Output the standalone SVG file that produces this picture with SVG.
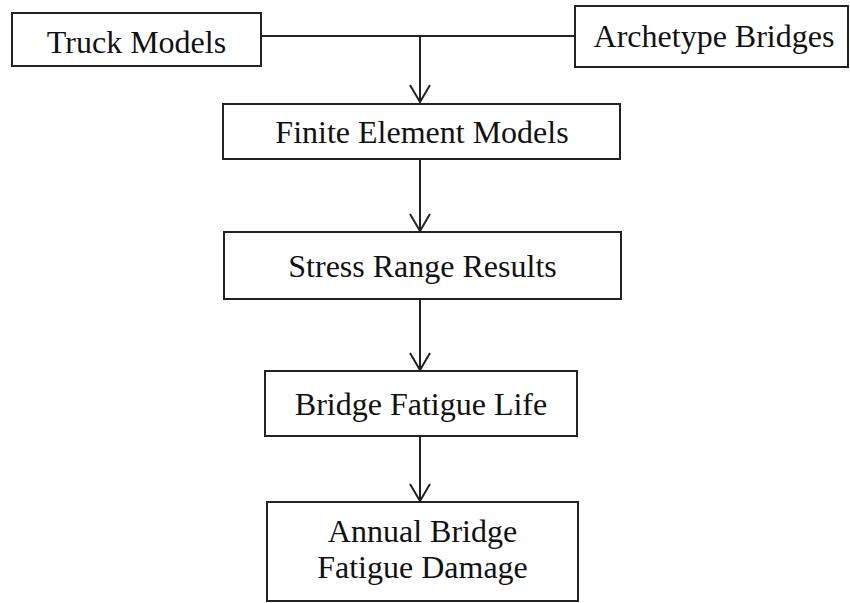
<svg xmlns="http://www.w3.org/2000/svg" width="850" height="603" viewBox="0 0 850 603">
<style>
.box{fill:#fff;stroke:#222;stroke-width:2}
.lbl{font-family:"Liberation Serif",serif;font-size:32px;fill:#111;text-anchor:middle}
.con{fill:none;stroke:#222;stroke-width:2}
</style>
<defs>
<marker id="arr" viewBox="0 0 20 22" refX="18" refY="11" markerWidth="20" markerHeight="22" markerUnits="userSpaceOnUse" orient="auto">
<polyline points="1,1 18,11 1,21" fill="none" stroke="#222" stroke-width="2"/>
</marker>
</defs>
<rect width="850" height="603" fill="#fff"/>
<g id="connectors">
<line class="con" x1="261" y1="36" x2="575" y2="36"/>
<path class="con" d="M420,36 V102" marker-end="url(#arr)"/>
<path class="con" d="M420,160 V231" marker-end="url(#arr)"/>
<path class="con" d="M420,299 V370" marker-end="url(#arr)"/>
<path class="con" d="M420,436 V501" marker-end="url(#arr)"/>
</g>
<g id="truck">
<rect class="box" x="12" y="13" width="249" height="53"/>
<text class="lbl" x="136.5" y="53">Truck Models</text>
</g>
<g id="archetype">
<rect class="box" x="575" y="6" width="273" height="61"/>
<text class="lbl" x="714" y="47">Archetype Bridges</text>
</g>
<g id="fem">
<rect class="box" x="223" y="104" width="397" height="55"/>
<text class="lbl" x="422" y="143">Finite Element Models</text>
</g>
<g id="stress">
<rect class="box" x="224" y="232" width="397" height="67"/>
<text class="lbl" x="422.5" y="277">Stress Range Results</text>
</g>
<g id="life">
<rect class="box" x="265" y="371" width="312" height="65"/>
<text class="lbl" x="421" y="415">Bridge Fatigue Life</text>
</g>
<g id="damage">
<rect class="box" x="267" y="502" width="311" height="99"/>
<text class="lbl" x="422.5" y="542">Annual Bridge</text>
<text class="lbl" x="422.5" y="578">Fatigue Damage</text>
</g>
</svg>
